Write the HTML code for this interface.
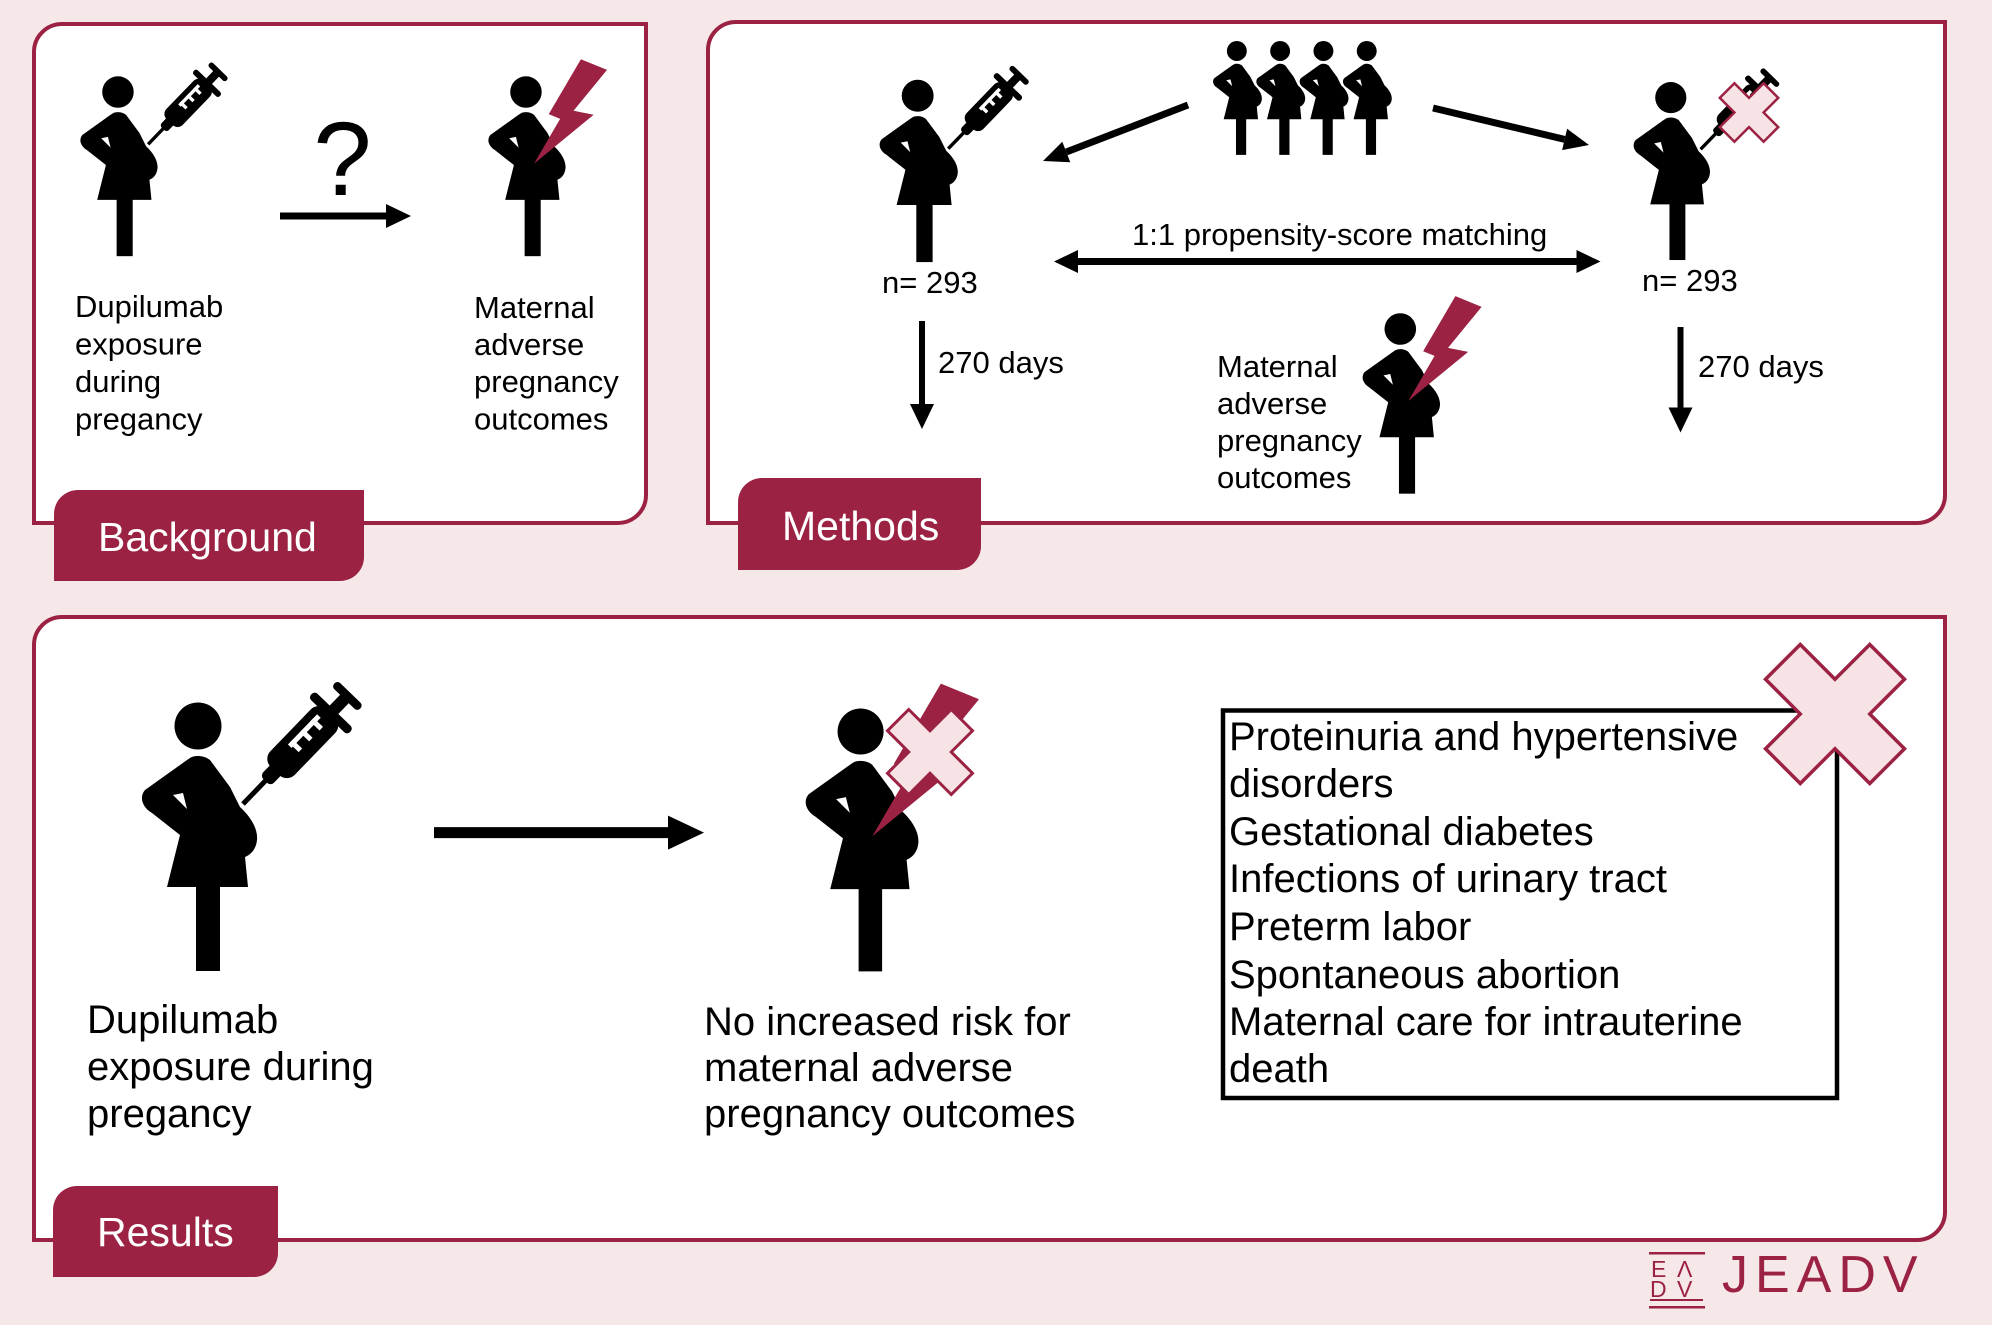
<!DOCTYPE html>
<html><head><meta charset="utf-8"><style>
html,body{margin:0;padding:0;background:#f6e7e9;}
svg{display:block;font-family:"Liberation Sans",Arial,sans-serif;}
</style></head><body>
<svg width="1992" height="1325" viewBox="0 0 1992 1325" xmlns="http://www.w3.org/2000/svg">
<defs>
 <g id="body">
  <circle cx="68" cy="46" r="23.5"/>
  <path d="M 60,78 C 64,75 74,75 80,80 L 100,107 L 110,127 C 122,138 128,150 127,160 C 126,170 120,175 115,177 L 118,207 L 37,207 L 50,155 L 22,133 C 12,127 9,117 15,110 L 57,80 Z"/>
  <rect x="66" y="205" width="24" height="86"/>
  <path d="M 43,115 L 53,113 L 57,129 Z" fill="#fff"/>
 </g>
 <g id="syr">
  <g transform="translate(113,124) rotate(-46)">
   <rect x="0" y="-2.5" width="38" height="5"/>
   <rect x="32" y="-7.5" width="20" height="15" rx="5"/>
   <rect x="46" y="-17" width="80" height="34" rx="11"/>
   <rect x="122" y="-27" width="9" height="54" rx="4"/>
   <rect x="129" y="-6" width="19" height="12"/>
   <rect x="146" y="-18" width="8.5" height="36" rx="4"/>
   <rect x="74" y="-9" width="42" height="5" fill="#fff"/>
   <rect x="76" y="-9" width="5" height="13" fill="#fff"/>
   <rect x="91" y="-9" width="5" height="13" fill="#fff"/>
   <rect x="106" y="-9" width="5" height="13" fill="#fff"/>
  </g>
 </g>
 <polygon id="bolt" points="150,-3 189,13 139,74 169,80 80,153 119,86 102,79" fill="#9b2242"/>
</defs>

<rect x="0" y="0" width="1992" height="1325" fill="#f6e7e9"/>

<!-- Panels -->
<path d="M 34,52 A 28 28 0 0 1 62,24 L 646,24 L 646,495 A 28 28 0 0 1 618,523 L 34,523 Z" fill="#fff" stroke="#9b2242" stroke-width="4"/>
<path d="M 708,50 A 28 28 0 0 1 736,22 L 1945,22 L 1945,495 A 28 28 0 0 1 1917,523 L 708,523 Z" fill="#fff" stroke="#9b2242" stroke-width="4"/>
<path d="M 34,645 A 28 28 0 0 1 62,617 L 1945,617 L 1945,1212 A 28 28 0 0 1 1917,1240 L 34,1240 Z" fill="#fff" stroke="#9b2242" stroke-width="4"/>

<!-- Tabs -->
<path d="M 54,514 A 24 24 0 0 1 78,490 L 364,490 L 364,557 A 24 24 0 0 1 340,581 L 54,581 Z" fill="#9b2242"/>
<text x="98" y="551" font-size="41" fill="#fff">Background</text>
<path d="M 738,502 A 24 24 0 0 1 762,478 L 981,478 L 981,546 A 24 24 0 0 1 957,570 L 738,570 Z" fill="#9b2242"/>
<text x="782" y="540" font-size="41" fill="#fff">Methods</text>
<path d="M 53,1210 A 24 24 0 0 1 77,1186 L 278,1186 L 278,1253 A 24 24 0 0 1 254,1277 L 53,1277 Z" fill="#9b2242"/>
<text x="97" y="1246" font-size="41" fill="#fff">Results</text>

<!-- Background content -->
<g transform="translate(72.4,61.2) scale(0.67)"><use href="#body"/><use href="#syr"/></g>
<text x="342.5" y="195" font-size="105" text-anchor="middle" fill="#000">?</text>
<line x1="280" y1="216" x2="390" y2="216" stroke="#000" stroke-width="7"/>
<polygon points="411,216 386,204 386,228" fill="#000"/>
<g transform="translate(480.4,61.2) scale(0.67)"><use href="#body"/><use href="#bolt"/></g>
<g font-size="31" fill="#000">
 <text x="75" y="317">Dupilumab</text>
 <text x="75" y="354.5">exposure</text>
 <text x="75" y="392">during</text>
 <text x="75" y="429.5">pregancy</text>
 <text x="474" y="318">Maternal</text>
 <text x="474" y="355">adverse</text>
 <text x="474" y="392">pregnancy</text>
 <text x="474" y="429.5">outcomes</text>
</g>

<!-- Methods content -->
<g transform="translate(871.5,64.5) scale(0.679)"><use href="#body"/><use href="#syr"/></g>
<g transform="translate(1208,31.5) scale(0.424)"><use href="#body"/></g>
<g transform="translate(1251.3,31.5) scale(0.424)"><use href="#body"/></g>
<g transform="translate(1294.6,31.5) scale(0.424)"><use href="#body"/></g>
<g transform="translate(1337.9,31.5) scale(0.424)"><use href="#body"/></g>
<g transform="translate(1625.7,67.1) scale(0.663)"><use href="#body"/><use href="#syr"/></g>
<polygon points="1734.4,83.3 1749,97.9 1763.6,83.3 1778.2,97.9 1763.6,112.5 1778.2,127.1 1763.6,141.7 1749,127.1 1734.4,141.7 1719.8,127.1 1734.4,112.5 1719.8,97.9" fill="#f7e3e6" stroke="#9b2242" stroke-width="2.5" stroke-linejoin="miter"/>
<g transform="translate(1354.6,298.1) scale(0.672)"><use href="#body"/><use href="#bolt"/></g>

<line x1="1188" y1="105" x2="1066.3" y2="152" stroke="#000" stroke-width="7"/>
<polygon points="1043,161 1062.3,141.7 1070.3,162.3" fill="#000"/>
<line x1="1433" y1="108" x2="1564.6" y2="139.4" stroke="#000" stroke-width="7"/>
<polygon points="1589,145 1562.1,150.1 1567.1,128.7" fill="#000"/>
<line x1="1076" y1="261.5" x2="1578" y2="261.5" stroke="#000" stroke-width="7"/>
<polygon points="1054,261.5 1078,250 1078,273" fill="#000"/>
<polygon points="1600.5,261.5 1576.5,250 1576.5,273" fill="#000"/>
<line x1="922" y1="321" x2="922" y2="406" stroke="#000" stroke-width="6"/>
<polygon points="922,429 910,404 934,404" fill="#000"/>
<line x1="1680.5" y1="327" x2="1680.5" y2="410" stroke="#000" stroke-width="6"/>
<polygon points="1680.5,432.5 1668.5,407.5 1692.5,407.5" fill="#000"/>

<g font-size="31" fill="#000">
 <text x="1132" y="245">1:1 propensity-score matching</text>
 <text x="882" y="293">n= 293</text>
 <text x="1642" y="291">n= 293</text>
 <text x="938" y="373">270 days</text>
 <text x="1698" y="377">270 days</text>
 <text x="1217" y="377">Maternal</text>
 <text x="1217" y="414">adverse</text>
 <text x="1217" y="451">pregnancy</text>
 <text x="1217" y="488">outcomes</text>
</g>

<!-- Results content -->
<g transform="translate(130,680)"><use href="#body"/><use href="#syr"/></g>
<line x1="434" y1="832.6" x2="672" y2="832.6" stroke="#000" stroke-width="11"/>
<polygon points="704,832.6 668,815.6 668,849.6" fill="#000"/>
<g transform="translate(794,686.5) scale(0.979)"><use href="#body"/><use href="#bolt"/></g>
<polygon points="908.75,709.5 930,730.75 951.25,709.5 972.5,730.75 951.25,752 972.5,773.25 951.25,794.5 930,773.25 908.75,794.5 887.5,773.25 908.75,752 887.5,730.75" fill="#f7e3e6" stroke="#9b2242" stroke-width="3"/>

<g font-size="40" fill="#000">
 <text x="87" y="1033">Dupilumab</text>
 <text x="87" y="1080">exposure during</text>
 <text x="87" y="1127">pregancy</text>
 <text x="704" y="1035">No increased risk for</text>
 <text x="704" y="1081">maternal adverse</text>
 <text x="704" y="1127">pregnancy outcomes</text>
</g>

<rect x="1223" y="710.5" width="614" height="387.5" fill="#fff" stroke="#000" stroke-width="4.5"/>
<g font-size="40" fill="#000">
 <text x="1229" y="750">Proteinuria and hypertensive</text>
 <text x="1229" y="797">disorders</text>
 <text x="1229" y="845">Gestational diabetes</text>
 <text x="1229" y="892">Infections of urinary tract</text>
 <text x="1229" y="940">Preterm labor</text>
 <text x="1229" y="988">Spontaneous abortion</text>
 <text x="1229" y="1035">Maternal care for intrauterine</text>
 <text x="1229" y="1082">death</text>
</g>
<polygon points="1800.25,644.5 1835,679.25 1869.75,644.5 1904.5,679.25 1869.75,714 1904.5,748.75 1869.75,783.5 1835,748.75 1800.25,783.5 1765.5,748.75 1800.25,714 1765.5,679.25" fill="#f7e3e6" stroke="#9b2242" stroke-width="3.5"/>

<!-- Logo -->
<g fill="#9b2242">
 <rect x="1649" y="1252" width="56" height="2.5"/>
 <text x="1651" y="1277" font-size="23">E</text>
 <text x="1677" y="1277" font-size="23">Λ</text>
 <text x="1650" y="1297" font-size="23">D</text>
 <text x="1677" y="1297" font-size="23">V</text>
 <rect x="1650" y="1299" width="53" height="2"/>
 <rect x="1649" y="1306" width="56" height="2.5"/>
 <text x="1722" y="1292" font-size="52" letter-spacing="7">JEADV</text>
</g>
</svg>
</body></html>
